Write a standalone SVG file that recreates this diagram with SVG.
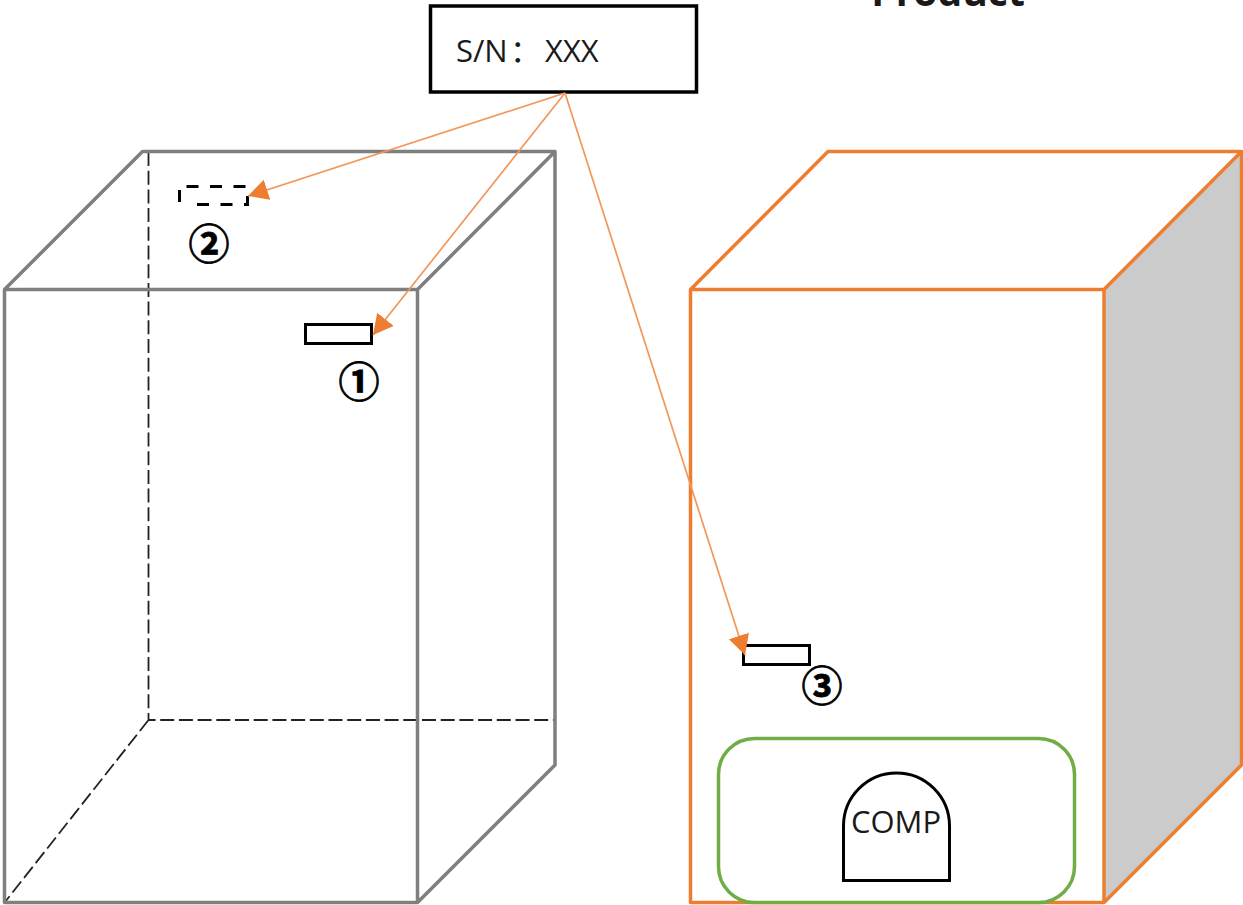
<svg xmlns="http://www.w3.org/2000/svg" width="1243" height="905" viewBox="0 0 1243 905">
<defs>
<style>
.t{font-family:"Open Sans","Noto Sans CJK SC",sans-serif;fill:#1a1a1a}
.grey{fill:none;stroke:#7f7f7f;stroke-width:3.5;stroke-linejoin:round}
.dash{fill:none;stroke:#222;stroke-width:1.8;stroke-dasharray:14 4.700}
.org{fill:none;stroke:#ed7d31;stroke-width:3.500;stroke-linejoin:round}
.lab{fill:#fff;stroke:#000;stroke-width:3}
.arrow{fill:none;stroke:#f1975a;stroke-width:1.7;marker-end:url(#ah)}
.num{font-family:"Noto Sans CJK SC",sans-serif;font-weight:700;font-size:41px;text-anchor:middle;fill:#000;stroke:#000;stroke-width:.8}
</style>
<marker id="ah" markerUnits="userSpaceOnUse" markerWidth="22" markerHeight="22" refX="20" refY="10.500" orient="auto"><path d="M0 0L20 10.500L0 21Z" fill="#ed7d31"/></marker>
</defs>
<rect width="1243" height="905" fill="#fff"/>
<g id="title"><text class="t" x="948" y="6" text-anchor="middle" font-size="39" font-weight="700" fill="#111">Product</text></g>
<g id="box-left">
<path class="dash" d="M148.500 152V720H555M148.500 720L5 902"/>
<path class="grey" d="M4.500 289.500H417.500V902.500H4.500ZM4.500 289.500L142.500 151.500H555V765L417.500 902.500M417.500 289.500L555 151.500"/>
</g>
<g id="box-right">
<path d="M1104 289.500L1242 151.500V765L1104 902.500Z" fill="#cbcbcb"/>
<path class="org" d="M690.500 289.500H1104V902.500H690.500ZM690.500 289.500L828 151.500H1241.500V765L1104 902.500M1104 289.500L1241.500 151.500"/>
</g>
<g id="serial"><rect x="430.500" y="6" width="266" height="86" fill="#fff" stroke="#000" stroke-width="3.500"/><text class="t" font-size="31" y="62"><tspan x="456">S/N</tspan><tspan x="510">：</tspan><tspan x="545">XXX</tspan></text></g>
<g id="label-1"><rect class="lab" x="305.500" y="324.500" width="66" height="19"/><text class="num" x="359" y="397.300">①</text></g>
<g id="label-2"><path d="M186.500 186.500H247.500V204.500H193M179.500 190V202" fill="none" stroke="#000" stroke-width="3" stroke-dasharray="12 11.500"/><text class="num" x="209" y="259.300">②</text></g>
<g id="label-3"><rect class="lab" x="743.500" y="645.500" width="66" height="19"/><text class="num" x="822" y="701.300">③</text></g>
<g id="comp-area"><rect x="718.500" y="738.500" width="356" height="164" rx="36" fill="#fff" stroke="#70ad47" stroke-width="3.500"/><path d="M843.500 880.500V826A53 53 0 0 1 949.500 826V880.500Z" fill="#fff" stroke="#000" stroke-width="3"/><text class="t" x="851" y="833" font-size="31" textLength="90" lengthAdjust="spacingAndGlyphs">COMP</text></g>
<g id="connectors">
<line class="arrow" x1="565" y1="93" x2="248" y2="196"/>
<line class="arrow" x1="565" y1="93" x2="373" y2="335"/>
<line class="arrow" x1="565" y1="93" x2="745" y2="655"/>
</g>
</svg>
